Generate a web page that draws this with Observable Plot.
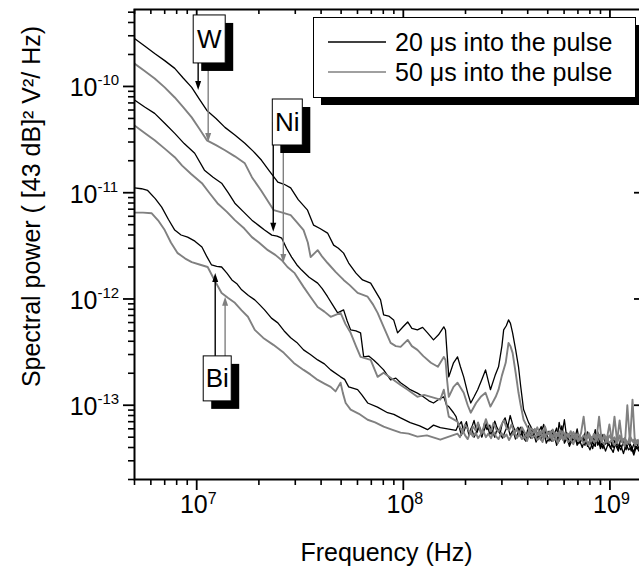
<!DOCTYPE html>
<html><head><meta charset="utf-8">
<script src="https://cdn.jsdelivr.net/npm/d3@7"></script>
<script src="https://cdn.jsdelivr.net/npm/@observablehq/plot@0.6"></script>
<style>body{margin:0;background:#fff}svg{display:block;overflow:hidden}</style>
</head><body><div id="chart"></div>
<script>
const FONT = '"Liberation Sans", Arial, Helvetica, sans-serif';

// ---- tick labels ----
const xMajor = [1e7, 1e8, 1e9];
const xExp = ["7", "8", "9"];
const yMajor = [1e-10, 1e-11, 1e-12, 1e-13];
const yExp = ["-10", "-11", "-12", "-13"];

// ---- legend ----
const legendLabels = ["20 \u03bcs into the pulse", "50 \u03bcs into the pulse"];
const legendColors = ["#000000", "#808080"];

// ---- series: [frequency Hz, spectral power] ----
const w20 = [[5.0e6,2.83e-10],[5.6e6,2.40e-10],[6.26e6,2.04e-10],[7.0e6,1.75e-10],[7.83e6,1.48e-10],[8.6e6,1.20e-10],[9.46e6,9.8e-11],[1.03e7,7.6e-11],[1.12e7,5.95e-11],[1.24e7,5.0e-11],[1.37e7,4.12e-11],[1.53e7,3.5e-11],[1.71e7,2.92e-11],[1.88e7,2.45e-11],[2.06e7,2.02e-11],[2.25e7,1.6e-11],[2.47e7,1.26e-11],[2.65e7,1.2e-11],[2.85e7,1.11e-11],[3.1e7,8.6e-12],[3.44e7,6.85e-12],[3.68e7,4.95e-12],[3.95e7,4.6e-12],[4.3e7,4.17e-12],[4.6e7,3.21e-12],[4.85e7,3.0e-12],[5.14e7,2.7e-12],[5.44e7,2.18e-12],[5.9e7,1.75e-12],[6.35e7,1.51e-12],[6.95e7,1.41e-12],[7.3e7,1.2e-12],[7.76e7,9.8e-13],[8.03e7,7.1e-13],[8.5e7,6.9e-13],[8.98e7,6.35e-13],[9.38e7,4.8e-13],[1.0e8,5.5e-13],[1.05e8,6.08e-13],[1.1e8,5.3e-13],[1.17e8,5.12e-13],[1.24e8,5.4e-13],[1.31e8,4.8e-13],[1.4e8,4.12e-13],[1.48e8,4.6e-13],[1.57e8,5.46e-13],[1.6e8,5.1e-13],[1.63e8,3.0e-13],[1.66e8,1.85e-13],[1.75e8,2.51e-13],[1.83e8,2.85e-13],[1.89e8,2.3e-13],[1.96e8,1.85e-13],[2.05e8,1.3e-13],[2.12e8,1.05e-13],[2.2e8,1.2e-13],[2.29e8,1.4e-13],[2.4e8,1.75e-13],[2.5e8,2.15e-13],[2.64e8,1.4e-13],[2.78e8,1.9e-13],[2.89e8,2.3e-13],[3.0e8,3.6e-13],[3.06e8,5.12e-13],[3.15e8,5.6e-13],[3.23e8,6.35e-13],[3.3e8,5.9e-13],[3.38e8,4.8e-13],[3.5e8,3.3e-13],[3.61e8,2.3e-13],[3.7e8,1.5e-13],[3.82e8,9.1e-14],[4.04e8,6.86e-14]];
const w50 = [[5.0e6,1.64e-10],[5.6e6,1.4e-10],[6.26e6,1.19e-10],[7.0e6,9.8e-11],[7.83e6,7.88e-11],[8.6e6,6.4e-11],[9.46e6,5.12e-11],[1.03e7,4.0e-11],[1.12e7,3.11e-11],[1.24e7,2.8e-11],[1.37e7,2.51e-11],[1.53e7,2.2e-11],[1.71e7,1.89e-11],[1.85e7,1.4e-11],[2.05e7,1.05e-11],[2.36e7,6.85e-12],[2.6e7,6.5e-12],[2.85e7,6.15e-12],[3.05e7,5.3e-12],[3.29e7,4.45e-12],[3.45e7,3.4e-12],[3.56e7,2.48e-12],[3.85e7,2.88e-12],[4.05e7,2.5e-12],[4.3e7,2.18e-12],[4.7e7,1.8e-12],[5.14e7,1.51e-12],[5.5e7,1.35e-12],[6.01e7,1.14e-12],[6.72e7,1.05e-12],[7.1e7,9.0e-13],[7.51e7,7.4e-13],[8.03e7,5.46e-13],[8.68e7,3.86e-13],[9.2e7,3.6e-13],[9.7e7,3.54e-13],[1.05e8,4.12e-13],[1.1e8,3.6e-13],[1.17e8,3.32e-13],[1.25e8,2.9e-13],[1.36e8,2.51e-13],[1.47e8,2.3e-13],[1.57e8,2.85e-13],[1.6e8,2.67e-13],[1.63e8,1.7e-13],[1.66e8,1.2e-13],[1.75e8,1.49e-13],[1.83e8,1.63e-13],[1.96e8,1.31e-13],[2.05e8,1.0e-13],[2.12e8,8.5e-14],[2.25e8,1.05e-13],[2.37e8,1.2e-13],[2.5e8,1.31e-13],[2.64e8,9.7e-14],[2.8e8,1.2e-13],[2.89e8,1.4e-13],[3.0e8,1.9e-13],[3.13e8,2.51e-13],[3.23e8,3.86e-13],[3.3e8,3.6e-13],[3.38e8,3.11e-13],[3.5e8,2.0e-13],[3.61e8,1.31e-13],[3.7e8,1.0e-13],[3.82e8,7.3e-14],[4.04e8,5.89e-14]];
const ni20 = [[5.0e6,7.47e-11],[5.6e6,6.4e-11],[6.26e6,5.58e-11],[7.0e6,4.5e-11],[7.83e6,3.62e-11],[8.7e6,2.9e-11],[9.78e6,2.35e-11],[1.09e7,1.63e-11],[1.2e7,1.4e-11],[1.32e7,1.23e-11],[1.42e7,1.0e-11],[1.53e7,7.97e-12],[1.7e7,6.5e-12],[1.85e7,5.52e-12],[2.0e7,4.9e-12],[2.13e7,4.45e-12],[2.31e7,3.99e-12],[2.45e7,3.9e-12],[2.58e7,3.74e-12],[2.72e7,3.0e-12],[2.88e7,2.48e-12],[3.05e7,2.1e-12],[3.22e7,1.87e-12],[3.5e7,1.6e-12],[3.85e7,1.41e-12],[4.05e7,1.25e-12],[4.3e7,1.05e-12],[4.55e7,8.8e-13],[4.81e7,7.4e-13],[5.14e7,7.9e-13],[5.35e7,6.2e-13],[5.56e7,5.12e-13],[5.9e7,5.0e-13],[6.21e7,4.8e-13],[6.43e7,2.85e-13],[6.8e7,2.9e-13],[7.18e7,2.67e-13],[7.6e7,2.4e-13],[8.03e7,2.15e-13],[8.68e7,1.73e-13],[9.2e7,1.8e-13],[9.7e7,1.63e-13],[1.03e8,1.5e-13],[1.08e8,1.4e-13],[1.17e8,1.3e-13],[1.25e8,1.2e-13],[1.33e8,1.1e-13],[1.4e8,1.05e-13],[1.5e8,1.15e-13],[1.57e8,1.2e-13],[1.62e8,1.0e-13],[1.66e8,9.7e-14],[1.75e8,8.5e-14]];
const ni50 = [[5.0e6,4.3e-11],[5.6e6,3.65e-11],[6.26e6,3.11e-11],[7.0e6,2.6e-11],[7.83e6,2.16e-11],[8.5e6,1.8e-11],[9.4e6,1.5e-11],[1.06e7,1.23e-11],[1.15e7,1.0e-11],[1.26e7,7.97e-12],[1.4e7,6.6e-12],[1.53e7,5.52e-12],[1.7e7,4.6e-12],[1.85e7,3.82e-12],[2.0e7,3.4e-12],[2.21e7,2.88e-12],[2.4e7,2.6e-12],[2.58e7,2.32e-12],[2.75e7,2.0e-12],[2.98e7,1.75e-12],[3.29e7,1.3e-12],[3.55e7,1.05e-12],[3.85e7,8.4e-13],[4.15e7,7.6e-13],[4.45e7,6.8e-13],[4.97e7,7.4e-13],[5.25e7,5.8e-13],[5.56e7,4.8e-13],[5.9e7,3.6e-13],[6.21e7,2.85e-13],[6.95e7,2.67e-13],[7.51e7,1.85e-13],[8.03e7,2.02e-13],[8.98e7,1.73e-13],[9.7e7,1.55e-13],[1.05e8,1.4e-13],[1.17e8,1.2e-13],[1.26e8,1.25e-13],[1.36e8,1.2e-13],[1.51e8,1.13e-13],[1.57e8,1.4e-13],[1.66e8,7.8e-14]];
const bi20 = [[5.0e6,1.11e-11],[5.4e6,1.09e-11],[5.79e6,1.05e-11],[6.3e6,8.8e-12],[6.77e6,7.31e-12],[7.3e6,5.6e-12],[7.83e6,4.45e-12],[8.4e6,4.0e-12],[9.04e6,3.82e-12],[9.8e6,3.5e-12],[1.06e7,3.08e-12],[1.12e7,2.5e-12],[1.18e7,2.09e-12],[1.25e7,2.03e-12],[1.32e7,2.0e-12],[1.4e7,1.75e-12],[1.48e7,1.51e-12],[1.57e7,1.38e-12],[1.65e7,1.22e-12],[1.78e7,1.08e-12],[1.91e7,9.8e-13],[2.02e7,8.8e-13],[2.13e7,7.9e-13],[2.3e7,6.6e-13],[2.47e7,5.96e-13],[2.65e7,5.0e-13],[2.85e7,4.31e-13],[3.05e7,3.9e-13],[3.29e7,3.32e-13],[3.55e7,3.0e-13],[3.85e7,2.67e-13],[4.15e7,2.45e-13],[4.45e7,2.15e-13],[4.97e7,1.85e-13],[5.2e7,1.75e-13],[5.44e7,1.49e-13],[6.01e7,1.4e-13],[6.3e7,1.25e-13],[6.72e7,1.05e-13],[7.5e7,9.6e-14],[8.39e7,8.5e-14],[9.0e7,8.2e-14],[9.7e7,7.6e-14],[1.08e8,6.86e-14],[1.2e8,6.4e-14],[1.31e8,5.89e-14],[1.4e8,6.5e-14],[1.51e8,6.15e-14]];
const bi50 = [[5.0e6,6.49e-12],[5.5e6,6.5e-12],[6.06e6,6.4e-12],[6.5e6,5.5e-12],[7.0e6,4.45e-12],[7.5e6,3.4e-12],[8.09e6,2.7e-12],[8.8e6,2.4e-12],[9.46e6,2.22e-12],[1.04e7,2.1e-12],[1.13e7,2.0e-12],[1.22e7,1.5e-12],[1.32e7,1.14e-12],[1.42e7,1.02e-12],[1.53e7,9.2e-13],[1.65e7,7.8e-13],[1.77e7,6.8e-13],[1.91e7,5.12e-13],[2.1e7,4.3e-13],[2.35e7,3.7e-13],[2.64e7,3.11e-13],[2.95e7,2.5e-13],[3.29e7,2.15e-13],[3.55e7,1.95e-13],[3.85e7,1.73e-13],[4.15e7,1.6e-13],[4.45e7,1.49e-13],[4.7e7,1.35e-13],[4.97e7,1.63e-13],[5.1e7,1.3e-13],[5.26e7,1.05e-13],[5.56e7,9.1e-14],[6.1e7,8.3e-14],[6.72e7,7.3e-14],[7.3e7,6.9e-14],[8.03e7,6.29e-14],[8.8e7,5.9e-14],[9.7e7,5.52e-14],[1.06e8,5.4e-14],[1.17e8,5.06e-14],[1.3e8,5.2e-14],[1.51e8,4.74e-14]];

// ---- noise floor: frequencies (units of 1e8 Hz) and readings (units of 1e-14) ----
const FREQ_UNIT = 1e8, FLOOR_UNIT = 1e-14;
const gridA = [1.80,1.85,1.91,1.96,2.02,2.08,2.14,2.20,2.27,2.33,2.40,2.47,2.54,2.62,2.69,2.77,2.85,2.94,3.02,3.11,3.20,3.29,3.39,3.49,3.59,3.69,3.80,3.91,4.03,4.14,4.26,4.39,4.52,4.65,4.78,4.92,5.07,5.21,5.37,5.52,5.68,5.85,6.02,6.19,6.37,6.56,6.75,6.94,7.15,7.35,7.57,7.79,8.01,8.25,8.49,8.73,8.99,9.25,9.52,9.79,10.08,10.37,10.67,10.98,11.30,11.63,11.97,12.32,12.68,13.05,13.43,13.82];
const gridB = [1.83,1.88,1.94,1.99,2.05,2.11,2.17,2.24,2.30,2.37,2.44,2.51,2.58,2.66,2.73,2.81,2.89,2.98,3.07,3.16,3.25,3.34,3.44,3.54,3.64,3.75,3.86,3.97,4.08,4.20,4.33,4.45,4.58,4.72,4.85,4.99,5.14,5.29,5.44,5.60,5.76,5.93,6.10,6.28,6.46,6.65,6.84,7.04,7.25,7.46,7.68,7.90,8.13,8.37,8.61,8.86,9.12,9.38,9.66,9.94,10.23,10.52,10.83,11.14,11.47,11.80,12.14,12.50,12.86,13.23,13.62,14.01];
const w20Floor = [6.3,5.2,5.9,4.8,5.5,6.6,5.0, 5.7,4.7,5.3,6.1,4.6,5.2,7.3,4.8,5.4,4.5,5.1,4.3, 5.0,4.6,5.5,4.1,4.8,4.4,5.9,4.2,4.7,3.9,4.9,4.3, 4.6,4.0,4.8,4.2,3.8,4.6,4.1,4.4,3.7,4.3,3.9,4.1];
const w50Floor = [6.0,5.5,6.2,5.3,5.8,5.1,5.6, 5.2,5.9,5.0,5.5,4.9,5.7,5.1,5.4,4.8,5.6,5.0,5.3, 4.8,5.2,4.7,5.5,4.9,5.1,4.6,5.3,4.8,5.0,4.5,5.2, 4.7,7.8,4.6,5.0,4.5,4.9,4.4,4.8,4.6,4.3,4.7,4.4];
const ni20Floor = [7.8,6.4,7.0,5.6,6.6,5.2,6.1,7.2,5.5,6.3,5.0,6.8, 5.9,6.5,5.3,7.1,6.0,5.4,6.9,7.6,6.2,8.0,6.5,5.6, 6.2,5.1,5.8,4.8,6.4,5.2,5.9,4.7,5.6,6.3,4.9,5.4, 4.6,5.8,5.0,4.4,6.9,5.1,4.7,5.5,4.3,5.2,4.8,6.0, 4.4,5.0,4.2,5.6,4.6,3.9,5.1,4.5,4.1,5.3,4.3,4.7, 3.9,4.9,4.2,3.7,5.0,4.4,3.8,4.6,4.1,3.6,4.5,3.9];
const bi20Floor = [5.8,6.6,5.2,6.0,7.0,5.4,6.2,5.0,5.7,6.5,5.1,5.9, 6.8,5.3,5.8,5.0,6.1,5.4,4.9,5.7,6.4,5.2,5.8,4.8, 5.5,6.2,5.0,4.6,5.3,4.9,5.6,4.5,5.1,4.7,5.8,4.4, 5.0,4.6,5.4,4.2,4.8,6.4,4.4,4.9,4.1,4.7,5.3,4.2, 4.6,4.0,4.9,4.3,3.8,4.5,4.1,5.6,3.9,4.4,3.7,4.3, 4.0,3.6,4.5,3.9,4.2,3.5,4.3,3.8,4.0,3.4,4.1,3.7];
const ni50Floor = [7.0,6.2,5.7,6.6,6.0,5.4,6.3,5.8,6.9,5.5,6.1,7.4, 6.3,5.7,6.8,6.0,5.6,6.5,7.2,6.1,5.8,6.6,5.5,6.0, 5.4,6.2,5.6,5.1,5.9,5.3,6.0,5.2,5.7,5.0,6.3,5.3, 5.6,4.9,5.5,5.1,5.8,4.8,5.4,5.0,5.7,4.9,5.3,4.7, 5.5,7.8,4.8,5.2,4.6,5.4,4.9,5.1,4.5,5.3,4.8,6.6, 4.6,5.0,4.4,5.2,4.7,4.9,4.3,5.1,4.6,4.8,4.4,4.9];
const bi50Floor = [5.4,5.0,5.8,5.2,4.8,5.6,5.1,5.5,4.9,5.3,5.7,5.0, 5.4,4.9,5.6,5.1,4.8,5.5,5.0,5.3,4.7,5.2,5.6,4.9, 5.3,4.8,5.1,4.6,5.4,4.9,5.2,4.7,5.0,4.5,5.3,4.8, 5.1,4.6,4.9,4.4,5.2,4.7,5.0,4.5,4.8,4.3,5.1,4.6, 4.9,4.4,4.7,4.2,5.0,4.5,4.8,7.8,4.6,4.3,4.9,4.4, 4.7,4.2,4.6,7.2,4.5,4.1,10.0,4.4,11.3,4.2,4.5,4.0];

// ---- annotations ----
const annLabels = ["W", "Ni", "Bi"];
const annBoxF = [1.156e7, 2.76e7, 1.264e7];
const annBoxP = [2.77e-10, 4.58e-11, 1.77e-13];
const arrowLabel = ["W", "W", "Ni", "Ni", "Bi", "Bi"];
const arrowF = [1.022e7, 1.143e7, 2.36e7, 2.64e7, 1.236e7, 1.38e7];
const arrowTipP = [9.17e-11, 2.97e-11, 4.24e-12, 2.16e-12, 1.74e-12, 1.04e-12];
const arrowColor = ["#000000", "#808080", "#000000", "#808080", "#000000", "#808080"];

// ---- build ----
const withFloor = (pts, grid, floor) => pts.concat(grid.slice(grid.length - floor.length).map((f, i) => [f * FREQ_UNIT, floor[i] * FLOOR_UNIT]));
const blackSeries = [withFloor(w20, gridA, w20Floor), withFloor(ni20, gridA, ni20Floor), withFloor(bi20, gridA, bi20Floor)];
const graySeries = [withFloor(w50, gridB, w50Floor), withFloor(ni50, gridB, ni50Floor), withFloor(bi50, gridB, bi50Floor)];

const xDomain = [5e6, 1.47e9];
const yDomain = [2e-14, 5.3e-10];
const minorOf = (dom, majors) => d3.scaleLog().domain(dom).ticks().filter(t => !majors.some(m => Math.abs(t / m - 1) < 1e-6) && t >= dom[0] && t <= dom[1]);
const xMinor = minorOf(xDomain, xMajor);
const yMinor = minorOf(yDomain, yMajor);

const frameW = 510, frameH = 470;
const yTicks = yMajor.map((v, i) => ({v, e: yExp[i]}));
const xTicks = xMajor.map((v, i) => ({v, e: xExp[i]}));

const annotations = (index, scales) => {
  const g = d3.create("svg:g");
  const {x, y} = scales;
  const boxes = annLabels.map((l, i) => ({l, cx: x(annBoxF[i]), cy: y(annBoxP[i])}));
  const sizes = {W: [32, 48], Ni: [30, 46], Bi: [28, 45]};
  arrowF.forEach((f, i) => {
    const b = boxes[annLabels.indexOf(arrowLabel[i])];
    const ax = x(f), tip = y(arrowTipP[i]);
    const dir = tip > b.cy ? 1 : -1;
    g.append("line").attr("x1", ax).attr("x2", ax).attr("y1", b.cy).attr("y2", tip - dir * 7)
      .attr("stroke", arrowColor[i]).attr("stroke-width", 1.4);
    g.append("path").attr("d", `M${ax},${tip}L${ax - 3},${tip - dir * 9}L${ax + 3},${tip - dir * 9}Z`)
      .attr("fill", arrowColor[i]);
  });
  boxes.forEach(b => {
    const [w, h] = sizes[b.l];
    g.append("rect").attr("x", b.cx - w / 2 + 8).attr("y", b.cy - h / 2 + 8).attr("width", w).attr("height", h).attr("fill", "#000");
    g.append("rect").attr("x", b.cx - w / 2).attr("y", b.cy - h / 2).attr("width", w).attr("height", h)
      .attr("fill", "#fff").attr("stroke", "#000").attr("stroke-width", 1);
    g.append("text").attr("x", b.cx).attr("y", b.cy).attr("text-anchor", "middle").attr("dy", "0.35em")
      .attr("font-size", 26).attr("font-family", FONT).attr("fill", "#000").text(b.l);
  });
  return g.node();
};

const legend = () => {
  const g = d3.create("svg:g");
  g.append("rect").attr("x", 321).attr("y", 25).attr("width", 322).attr("height", 80).attr("fill", "#000");
  g.append("rect").attr("x", 313.5).attr("y", 17.5).attr("width", 322).attr("height", 80).attr("fill", "#fff").attr("stroke", "#000").attr("stroke-width", 1);
  legendLabels.forEach((l, i) => {
    const yy = 42 + i * 30;
    g.append("line").attr("x1", 328).attr("x2", 386).attr("y1", yy).attr("y2", yy).attr("stroke", legendColors[i]).attr("stroke-width", i ? 1.6 : 1.3);
    g.append("text").attr("x", 395).attr("y", yy).attr("dy", "0.35em").attr("text-anchor", "start")
      .attr("font-size", 25).attr("font-family", FONT).attr("fill", "#000").text(l);
  });
  return g.node();
};

const plot = Plot.plot({
  width: 639, height: 577,
  marginLeft: 134, marginRight: -5, marginTop: 9, marginBottom: 98,
  x: {type: "log", domain: xDomain, axis: null},
  y: {type: "log", domain: yDomain, axis: null},
  style: {fontFamily: FONT, background: "#fff", color: "#000"},
  marks: [
    ...blackSeries.map(s => Plot.line(s, {x: d => d[0], y: d => d[1], stroke: "#000", strokeWidth: 1.3, clip: true})),
    ...graySeries.map(s => Plot.line(s, {x: d => d[0], y: d => d[1], stroke: "#808080", strokeWidth: 1.9, clip: true})),
    Plot.frame({stroke: "#000", strokeWidth: 2}),
    Plot.ruleY(yMajor, {y: d => d, insetLeft: -11, insetRight: frameW, strokeWidth: 1.8}),
    Plot.ruleY(yMinor, {y: d => d, insetLeft: -6, insetRight: frameW, strokeWidth: 1.6}),
    Plot.ruleY(yMajor, {y: d => d, insetLeft: frameW - 10, strokeWidth: 1.8}),
    Plot.ruleY(yMinor, {y: d => d, insetLeft: frameW - 5, strokeWidth: 1.6}),
    Plot.ruleX(xMajor, {x: d => d, insetTop: frameH, insetBottom: -11, strokeWidth: 1.8}),
    Plot.ruleX(xMinor, {x: d => d, insetTop: frameH, insetBottom: -6, strokeWidth: 1.6}),
    Plot.ruleX(xMajor, {x: d => d, insetBottom: frameH - 10, strokeWidth: 1.8}),
    Plot.ruleX(xMinor, {x: d => d, insetBottom: frameH - 5, strokeWidth: 1.6}),
    Plot.text(yTicks, {y: "v", text: () => "10", frameAnchor: "left", textAnchor: "end", dx: -37, dy: 2, fontSize: 25}),
    Plot.text(yTicks, {y: "v", text: "e", frameAnchor: "left", textAnchor: "start", dx: -37, dy: -6, fontSize: 15}),
    Plot.text(xTicks, {x: "v", text: () => "10", frameAnchor: "bottom", textAnchor: "end", dx: 11, dy: 33, fontSize: 25}),
    Plot.text(xTicks, {x: "v", text: "e", frameAnchor: "bottom", textAnchor: "start", dx: 11, dy: 24, fontSize: 16}),
    Plot.text(["Frequency (Hz)"], {frameAnchor: "bottom", dx: -3, dy: 81, fontSize: 25, textAnchor: "middle"}),
    Plot.text(["Spectral power ( [43 dB]\u00b2 V\u00b2/ Hz)"], {frameAnchor: "left", dx: -103, dy: -38, rotate: -90, fontSize: 25, textAnchor: "middle"}),
    annotations,
    legend
  ]
});
document.getElementById("chart").appendChild(plot);
</script>
</body></html>
